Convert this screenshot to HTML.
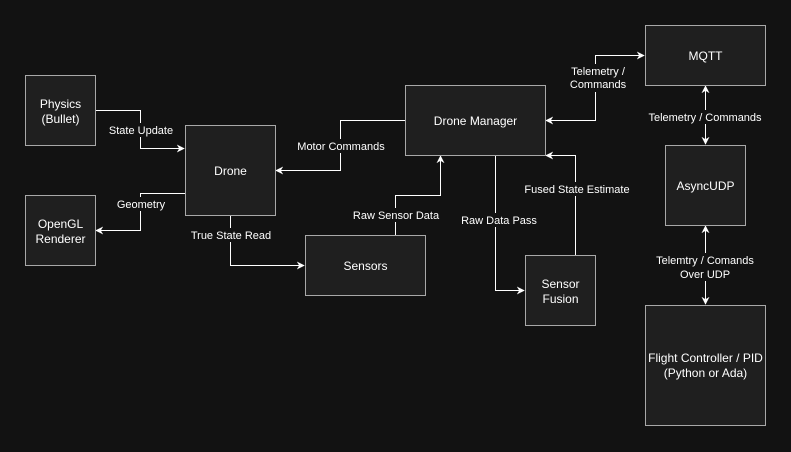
<!DOCTYPE html>
<html><head><meta charset="utf-8"><style>
html,body{margin:0;padding:0;background:#121212;}
svg{display:block;}
text{font-family:"Liberation Sans",Arial,sans-serif;font-size:12px;fill:#fff;text-anchor:middle;}
.b{fill:#1f1f1f;stroke:#a8a8a8;stroke-width:1;}
.e{fill:none;stroke:#fff;stroke-width:1;}
.l{font-size:11px;}
.bg{fill:#121212;}
</style></head><body>
<svg width="791" height="452" viewBox="0 0 791 452">
<defs><marker id="a" viewBox="0 0 10 10" refX="9" refY="5" markerWidth="8" markerHeight="8" orient="auto-start-reverse" markerUnits="userSpaceOnUse"><path d="M0,0 L10,5 L0,10 L3,5 z" fill="#fff"/></marker></defs>
<rect width="791" height="452" fill="#121212"/>
<path class="e" d="M95.5,110.5 H140.5 V148.5 H184" marker-end="url(#a)"/>
<path class="e" d="M185,193.5 H140.5 V230.5 H96" marker-end="url(#a)"/>
<path class="e" d="M405,120.5 H340.5 V170.5 H276" marker-end="url(#a)"/>
<path class="e" d="M230.5,215 V265.5 H304" marker-end="url(#a)"/>
<path class="e" d="M395.5,235 V195.5 H440.5 V156" marker-end="url(#a)"/>
<path class="e" d="M495.5,155 V290.5 H524" marker-end="url(#a)"/>
<path class="e" d="M575.5,255 V155.5 H546" marker-end="url(#a)"/>
<path class="e" d="M546,120.5 H595.5 V55.5 H644" marker-start="url(#a)" marker-end="url(#a)"/>
<path class="e" d="M705.5,86 V144" marker-start="url(#a)" marker-end="url(#a)"/>
<path class="e" d="M705.5,226 V304" marker-start="url(#a)" marker-end="url(#a)"/>
<rect class="bg" x="106" y="123" width="70" height="14"/>
<rect class="bg" x="115" y="197" width="52" height="14"/>
<rect class="bg" x="294" y="139" width="94" height="14"/>
<rect class="bg" x="188" y="228" width="86" height="14"/>
<rect class="bg" x="350" y="208" width="92" height="14"/>
<rect class="bg" x="458" y="213" width="82" height="14"/>
<rect class="bg" x="521" y="182" width="112" height="14"/>
<rect class="bg" x="566" y="64" width="64" height="28"/>
<rect class="bg" x="645" y="110" width="120" height="14"/>
<rect class="bg" x="652" y="253" width="106" height="28"/>
<text class="l" x="141" y="134">State Update</text>
<text class="l" x="141" y="208">Geometry</text>
<text class="l" x="341" y="150">Motor Commands</text>
<text class="l" x="231" y="239">True State Read</text>
<text class="l" x="396" y="219">Raw Sensor Data</text>
<text class="l" x="499" y="224">Raw Data Pass</text>
<text class="l" x="577" y="193">Fused State Estimate</text>
<text class="l" x="598" y="75">Telemetry  /</text>
<text class="l" x="598" y="88">Commands</text>
<text class="l" x="705" y="121">Telemetry / Commands</text>
<text class="l" x="705" y="264">Telemtry / Comands</text>
<text class="l" x="705" y="278">Over UDP</text>
<rect class="b" x="25.5" y="75.5" width="70" height="70"/>
<text x="60.5" y="108">Physics</text><text x="60.5" y="123">(Bullet)</text>
<rect class="b" x="25.5" y="195.5" width="70" height="70"/>
<text x="60.5" y="228">OpenGL</text><text x="60.5" y="243">Renderer</text>
<rect class="b" x="185.5" y="125.5" width="90" height="90"/>
<text x="230.5" y="175">Drone</text>
<rect class="b" x="305.5" y="235.5" width="120" height="60"/>
<text x="365.5" y="270">Sensors</text>
<rect class="b" x="405.5" y="85.5" width="140" height="70"/>
<text x="475.5" y="125">Drone Manager</text>
<rect class="b" x="525.5" y="255.5" width="70" height="70"/>
<text x="560.5" y="288">Sensor</text><text x="560.5" y="303">Fusion</text>
<rect class="b" x="645.5" y="25.5" width="120" height="60"/>
<text x="705.5" y="60">MQTT</text>
<rect class="b" x="665.5" y="145.5" width="80" height="80"/>
<text x="705.5" y="190">AsyncUDP</text>
<rect class="b" x="645.5" y="305.5" width="120" height="120"/>
<text x="705.5" y="362">Flight Controller / PID</text><text x="705.5" y="377">(Python or Ada)</text>
</svg>
</body></html>
